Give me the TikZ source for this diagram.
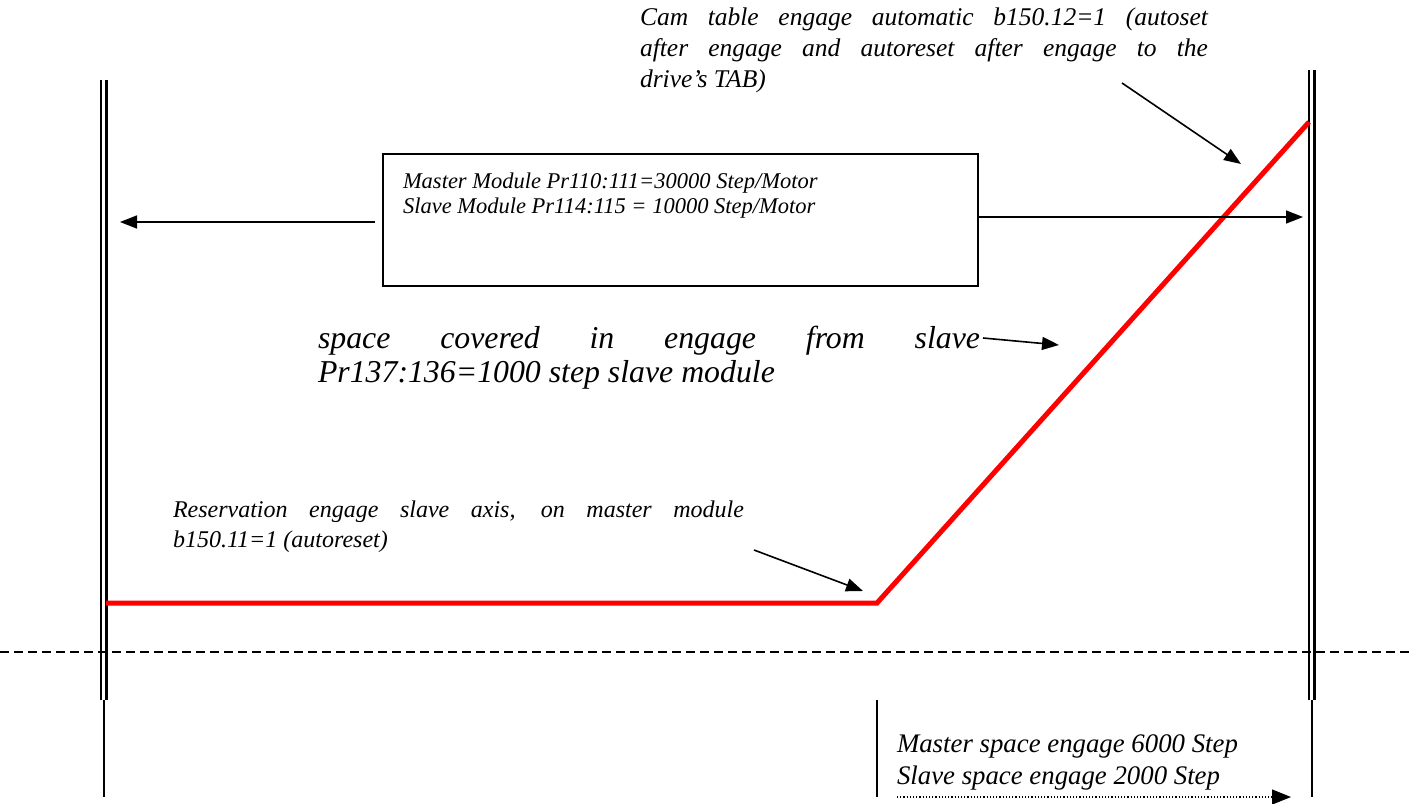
\documentclass[tikz,border=0pt]{standalone}
\usepackage{fontspec}
\setmainfont{Liberation Serif}
\usetikzlibrary{arrows.meta}
\begin{document}
\begin{tikzpicture}[x=1pt,y=-1pt,
  lbl/.style={anchor=north west,inner sep=0pt,outer sep=0pt,font=\itshape},
  arr/.style={line width=1.6pt,-{Triangle[length=17pt,width=13pt]}},
  axis/.style={line width=2.5pt},
  thin/.style={line width=1.5pt},
  curve/.style={line width=5pt,red}]
\useasboundingbox (0,0) rectangle (1413,803);
% axes
\draw[axis] (101,80) -- (101,700);
\draw[axis] (106.5,80) -- (106.5,700);
\draw[axis] (1309,70) -- (1309,700);
\draw[axis] (1314.5,70) -- (1314.5,700);
\draw[thin] (104,700) -- (104,797);
\draw[thin] (1312,700) -- (1312,797);
\draw[thin] (877,700) -- (877,797);
% dashed line
\draw[line width=1.7pt,dash pattern=on 9pt off 5pt] (0,652) -- (1413,652);
% red curve
\coordinate (r0) at (106,603);
\coordinate (r1) at (877,603);
\coordinate (r2) at (1309,122);
\draw[curve] (r0) -- (r1) -- (r2);
% box
\node[draw,line width=1.5pt,minimum width=595pt,minimum height=132pt,anchor=north west,inner sep=0pt] (box) at (382,153) {};
\node[lbl,align=left,font=\itshape\fontsize{22.5}{25}\selectfont] (boxtext) at (403,172.5)
  {Master Module Pr110:111=30000 Step/Motor\\Slave Module Pr114:115 = 10000 Step/Motor};
\coordinate (lstart) at (375,222);
\coordinate (lend) at (120,222);
\coordinate (rstart) at (977,217);
\coordinate (rend) at (1303,217);
\draw[arr] (lstart) -- (lend);
\draw[arr] (rstart) -- (rend);
% cam text
\node[lbl,text width=568pt,align=justify,font=\itshape\fontsize{25.5}{31}\selectfont] (cam) at (640,8)
  {Cam table engage automatic b150.12=1 (autoset\linebreak after engage and autoreset after engage to the\linebreak drive’s TAB)};
\coordinate (cs) at (1122,83);
\coordinate (ce) at (1241,164);
\draw[arr] (cs) -- (ce);
% big text
\node[lbl,text width=662pt,align=justify,font=\itshape\fontsize{31.8}{34}\selectfont] (space) at (318,326)
  {space covered in engage from slave\linebreak Pr137:136=1000 step slave module};
\coordinate (ss) at (983,338);
\coordinate (se) at (1059,345);
\draw[arr] (ss) -- (se);
% reservation text
\node[lbl,text width=571pt,align=justify,font=\itshape\fontsize{24}{30}\selectfont] (res) at (173,501)
  {Reservation engage slave axis, on master module\linebreak b150.11=1 (autoreset)};
\coordinate (rs) at (754,550);
\coordinate (re) at (863,591);
\draw[arr] (rs) -- (re);
% bottom text
\node[lbl,align=left,font=\itshape\fontsize{26.8}{32}\selectfont] (bottom) at (897,735)
  {Master space engage 6000 Step\\Slave space engage 2000 Step};
\coordinate (ds) at (897,797);
\coordinate (de) at (1291,797);
\draw[line width=1.2pt,dotted,-{Triangle[length=19pt,width=15pt]}] (ds) -- (de);
\end{tikzpicture}
\end{document}
